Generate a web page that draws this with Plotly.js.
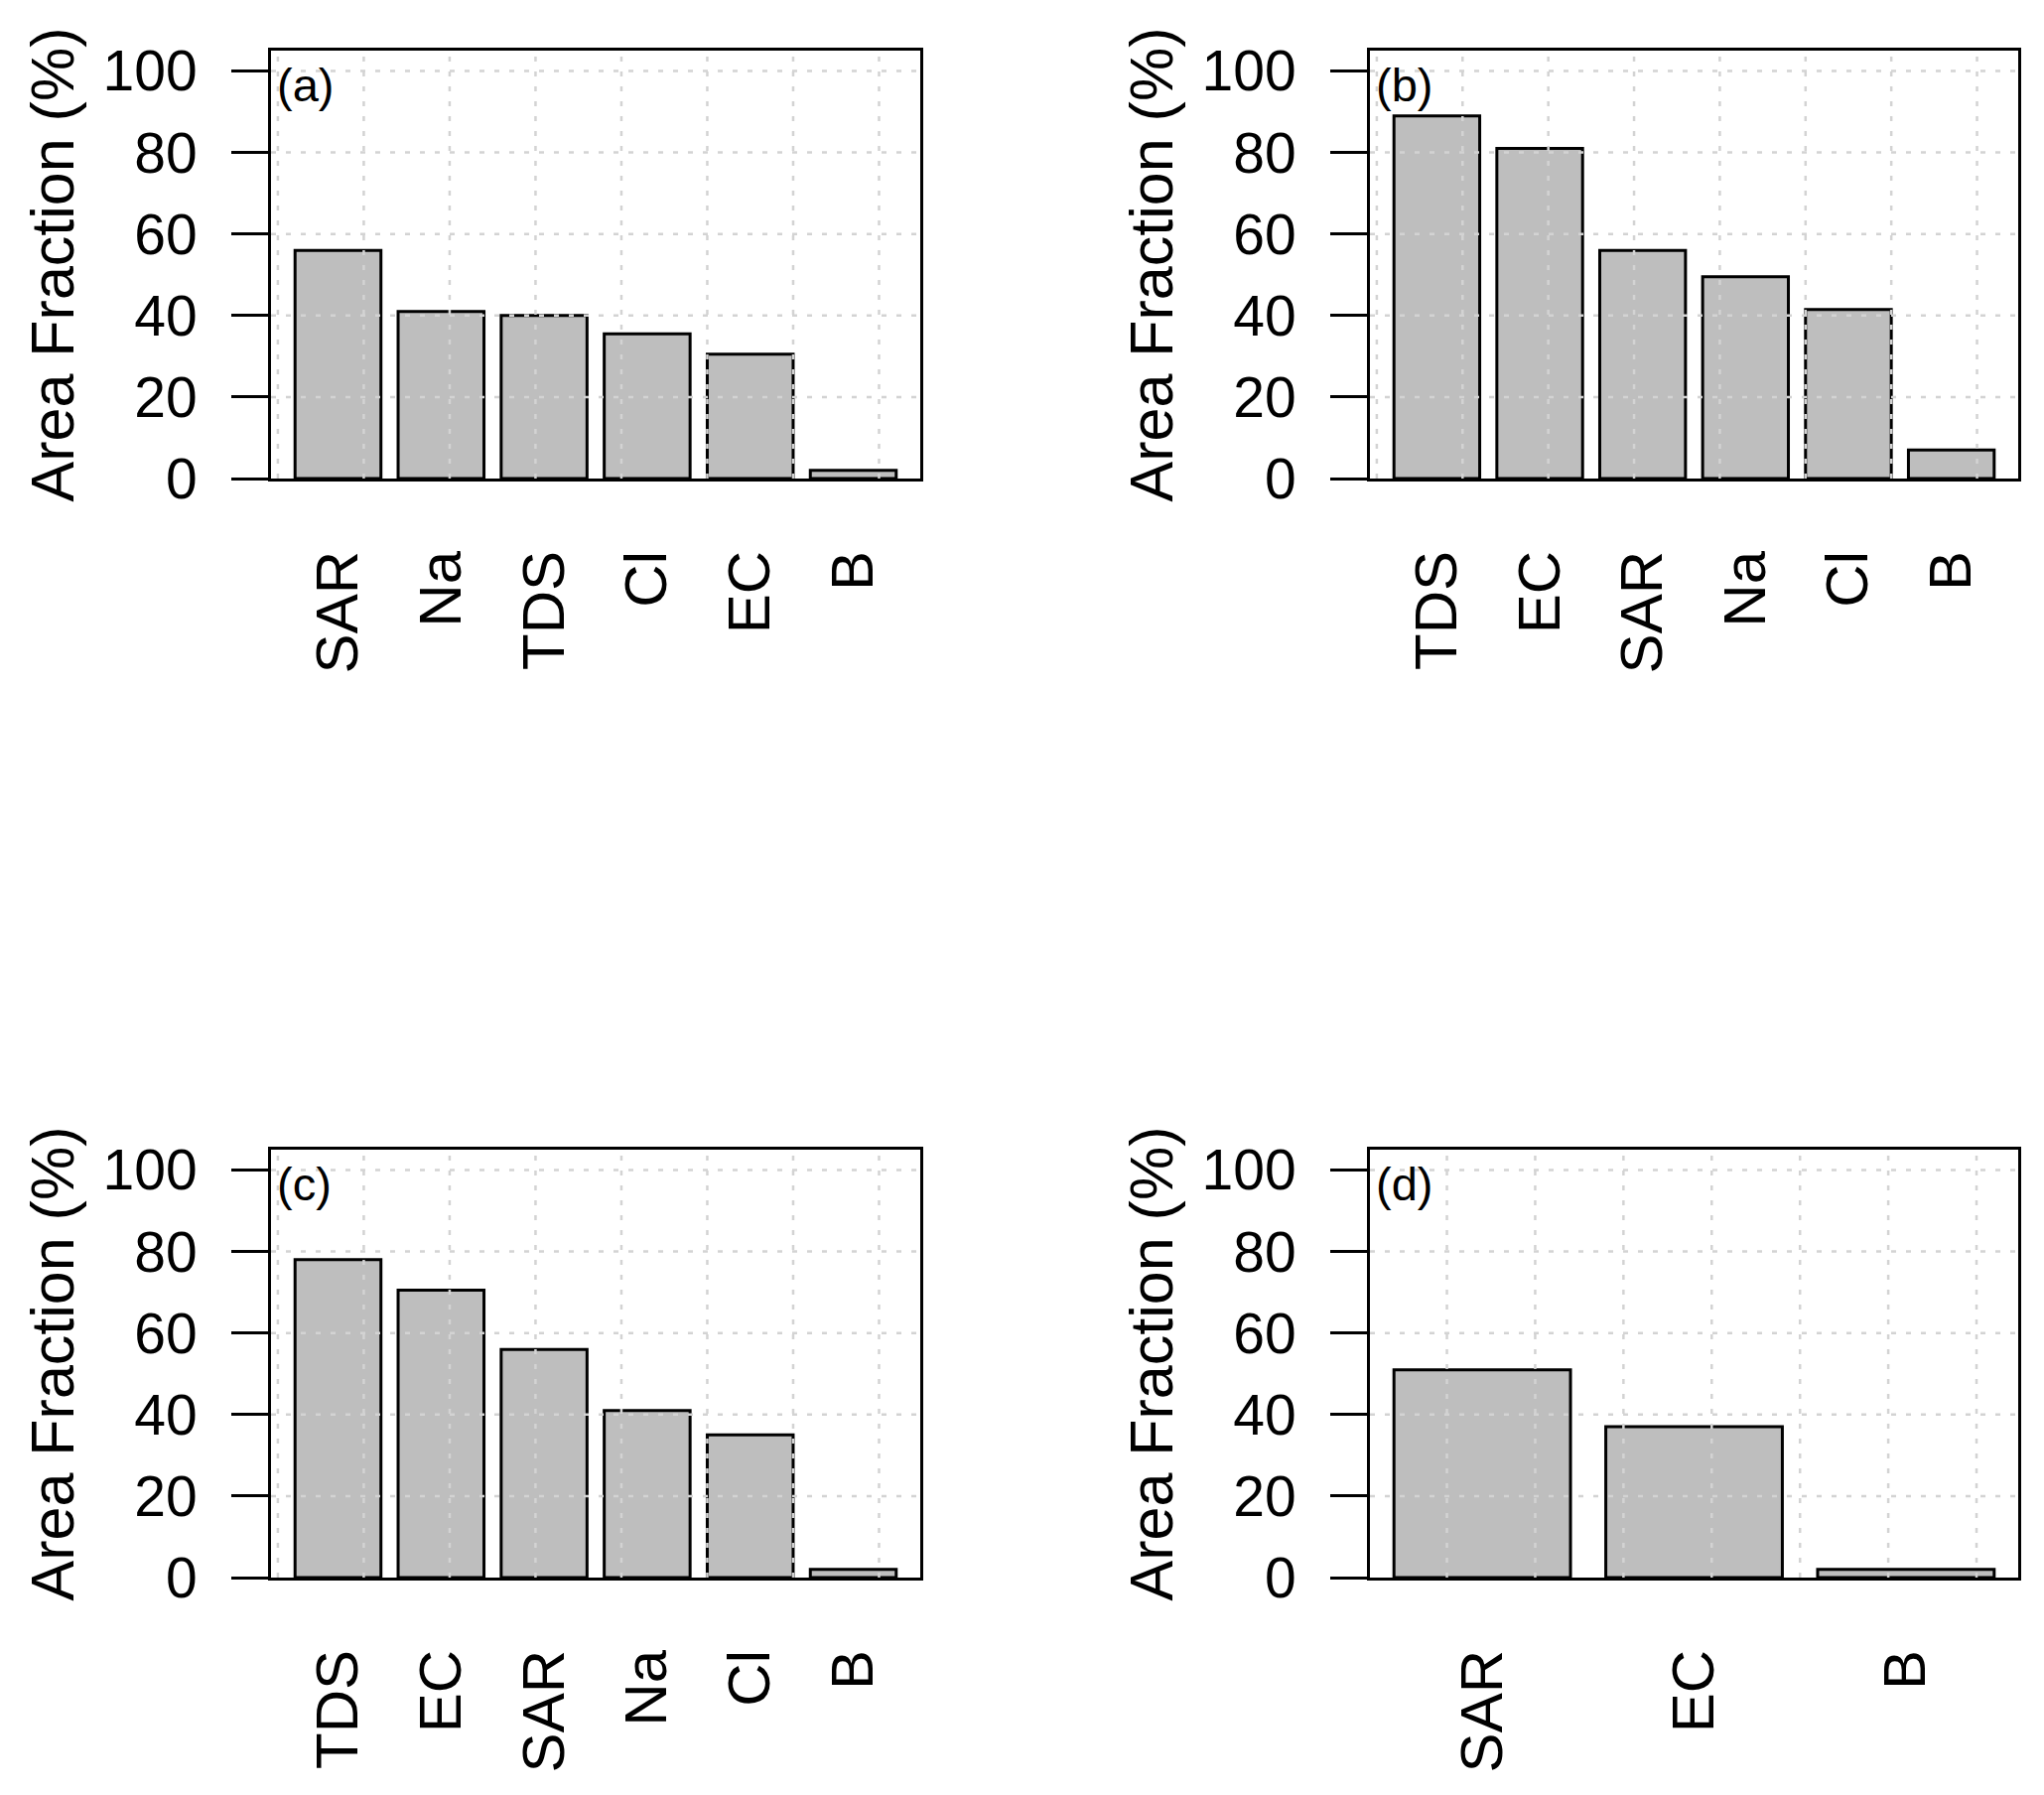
<!DOCTYPE html>
<html><head><meta charset="utf-8">
<script src="https://cdn.plot.ly/plotly-3.0.1.min.js"></script>
<style>html,body{margin:0;padding:0;background:#fff;} #chart{width:2059px;height:1808px;}</style>
</head><body><div id="chart"></div>
<script>
// ---- data ----
const catsA = ['SAR', 'Na', 'TDS', 'Cl', 'EC', 'B'];
const valsA = [56, 41, 40, 35.5, 30.5, 2];
const catsB = ['TDS', 'EC', 'SAR', 'Na', 'Cl', 'B'];
const valsB = [89, 81, 56, 49.5, 41.5, 7];
const catsC = ['TDS', 'EC', 'SAR', 'Na', 'Cl', 'B'];
const valsC = [78, 70.5, 56, 41, 35, 2];
const catsD = ['SAR', 'EC', 'B'];
const valsD = [51, 37, 2];
const panelLabels = ['(a)', '(b)', '(c)', '(d)'];
const yTickVals = [0, 20, 40, 60, 80, 100];
const yTitle = 'Area Fraction (%)';

// ---- layout ----
const W = 2059, H = 1808;
const FONT = 'Liberation Sans, Arial, sans-serif';
const panels = [
  {cats: catsA, vals: valsA, box: {l: 273, r: 927, t: 51, b: 482}},
  {cats: catsB, vals: valsB, box: {l: 1380, r: 2033, t: 51, b: 482}},
  {cats: catsC, vals: valsC, box: {l: 273, r: 927, t: 1158, b: 1589}},
  {cats: catsD, vals: valsD, box: {l: 1380, r: 2033, t: 1158, b: 1589}}
];

// R barplot geometry: width 1, space 0.2 -> converted to category index units
function rLimits(n) { const lo = 0.2, hi = 1.2 * n; const ext = 0.04 * (hi - lo); return [lo - ext, hi + ext]; }
function toIdx(r) { return (r - 0.7) / 1.2; }

const traces = [];
const layout = {
  width: W, height: H,
  margin: {l: 0, r: 0, t: 0, b: 0},
  paper_bgcolor: '#fff', plot_bgcolor: '#fff',
  font: {family: FONT, color: '#000'},
  bargap: 1 / 6,
  showlegend: false,
  shapes: [],
  annotations: []
};

const gridLine = {color: '#D3D3D3', width: 2.5, dash: '5px,10px'};

panels.forEach((p, i) => {
  const sfx = i === 0 ? '' : String(i + 1);
  const xa = 'x' + sfx, ya = 'y' + sfx;
  const n = p.cats.length;
  const lim = rLimits(n);
  const b = p.box;

  traces.push({
    type: 'bar', x: p.cats, y: p.vals, xaxis: xa, yaxis: ya,
    marker: {color: '#BEBEBE', line: {color: '#000', width: 3}},
    hoverinfo: 'skip', showlegend: false
  });

  layout['xaxis' + sfx] = {
    domain: [b.l / W, b.r / W], anchor: ya, type: 'category',
    range: [toIdx(lim[0]), toIdx(lim[1])],
    showline: true, mirror: true, linecolor: '#000', linewidth: 3,
    ticks: '', showgrid: false, zeroline: false,
    tickangle: -90, tickfont: {family: FONT, size: 60, color: '#000'},
    ticklabelstandoff: 46, fixedrange: true
  };
  layout['yaxis' + sfx] = {
    domain: [1 - b.b / H, 1 - b.t / H], anchor: xa,
    range: [0, 105], tickmode: 'array', tickvals: yTickVals,
    ticks: 'outside', ticklen: 37, tickwidth: 3, tickcolor: '#000',
    showline: true, mirror: true, linecolor: '#000', linewidth: 3,
    showgrid: false, zeroline: false,
    tickfont: {family: FONT, size: 57, color: '#000'},
    ticklabelstandoff: 23,
    title: {text: yTitle, font: {family: FONT, size: 61, color: '#000'}, standoff: 10},
    fixedrange: true
  };

  // grid() on top of the bars, as in the original
  const step = n > 4 ? 1 : 0.5;
  for (let r = Math.ceil(lim[0] / step) * step; r <= lim[1] + 1e-9; r += step) {
    layout.shapes.push({type: 'line', layer: 'above', xref: xa, yref: ya + ' domain',
      x0: toIdx(r), x1: toIdx(r), y0: 0, y1: 1, line: gridLine});
  }
  yTickVals.filter(v => v > 0).forEach(v => {
    layout.shapes.push({type: 'line', layer: 'above', xref: xa + ' domain', yref: ya,
      x0: 0, x1: 1, y0: v, y1: v, line: gridLine});
  });

  layout.annotations.push({
    xref: xa + ' domain', yref: ya + ' domain', x: 0.006, y: 0.921,
    xanchor: 'left', yanchor: 'middle', showarrow: false,
    text: panelLabels[i], font: {family: FONT, size: 47, color: '#000'}
  });
});

Plotly.newPlot('chart', traces, layout, {displayModeBar: false, staticPlot: true});
</script>
</body></html>
